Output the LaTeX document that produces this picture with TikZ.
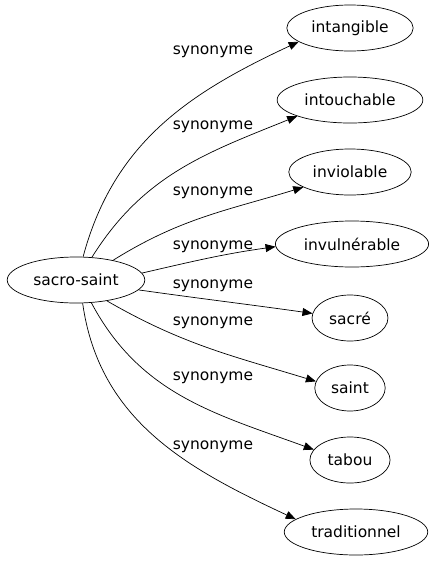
\documentclass[tikz,border=0pt]{standalone}
\usepackage{fontspec}
\setmainfont{DejaVu Sans}
\usetikzlibrary{arrows.meta,shapes.geometric}
\begin{document}
\begin{tikzpicture}[
  x=1pt, y=1pt,
  word/.style={draw, line width=0.7pt, ellipse, minimum height=46pt, inner xsep=6pt, font=\fontsize{15.5}{18}\selectfont},
  rel/.style={font=\fontsize{15.5}{18}\selectfont},
  syn/.style={line width=0.7pt, -{Triangle[length=10pt,width=8pt]}},
]
\useasboundingbox (0,0) rectangle (436,-563);
% headword and its synonyms
\node[word] (sacrosaint) at (76,-280) {sacro-saint};
\node[word] (intangible) at (350,-28) {intangible};
\node[word] (intouchable) at (350,-100) {intouchable};
\node[word] (inviolable) at (350,-172) {inviolable};
\node[word] (invulnerable) at (352,-244) {invulnérable};
\node[word] (sacre) at (350,-318) {sacré};
\node[word] (saint) at (350,-388) {saint};
\node[word] (tabou) at (350,-460) {tabou};
\node[word] (traditionnel) at (356,-532) {traditionnel};
% edges
\draw[syn] (sacrosaint.73) to[out=75,in=205] (intangible.195);
\draw[syn] (sacrosaint.55) to[out=58,in=202] (intouchable.197);
\draw[syn] (sacrosaint.28) to[out=32,in=197] (inviolable.198);
\draw[syn] (sacrosaint.6) to[out=13,in=188] (invulnerable.182);
\draw[syn] (sacrosaint.-9) to[out=-8,in=172] (sacre.173);
\draw[syn] (sacrosaint.-34) to[out=-30,in=163] (saint.169);
\draw[syn] (sacrosaint.-56) to[out=-62,in=160] (tabou.164);
\draw[syn] (sacrosaint.-74) to[out=-82,in=155] (traditionnel.168);
% edge labels
\node[rel] (l1) at (213,-52) {synonyme};
\node[rel] (l2) at (213,-127) {synonyme};
\node[rel] (l3) at (213,-193) {synonyme};
\node[rel] (l4) at (213,-247) {synonyme};
\node[rel] (l5) at (213,-286) {synonyme};
\node[rel] (l6) at (213,-323) {synonyme};
\node[rel] (l7) at (213,-378) {synonyme};
\node[rel] (l8) at (213,-447) {synonyme};
\end{tikzpicture}
\end{document}
